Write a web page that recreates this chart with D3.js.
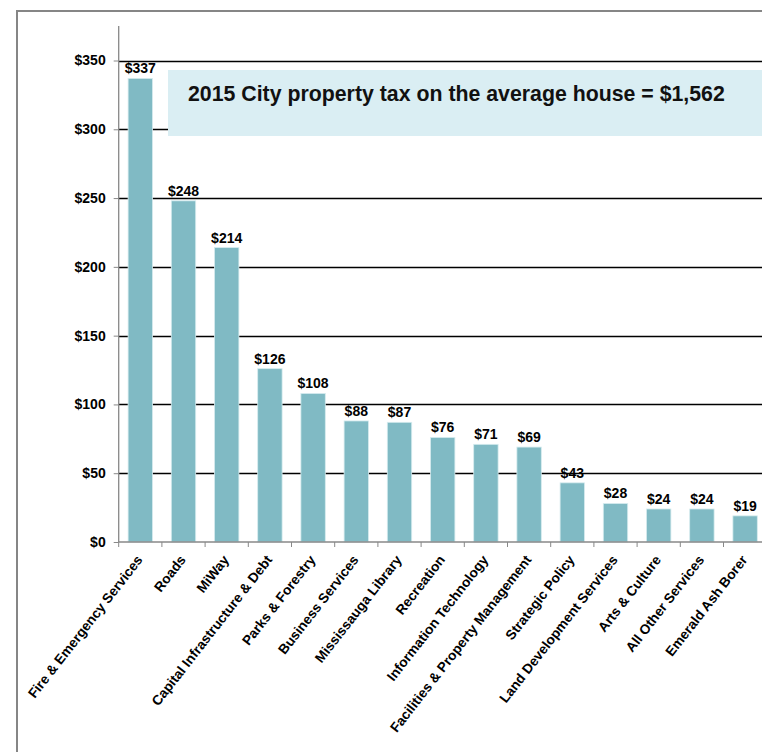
<!DOCTYPE html>
<html>
<head>
<meta charset="utf-8">
<script src="https://cdn.jsdelivr.net/npm/d3@7"></script>
<style>
  html, body { margin: 0; padding: 0; background: #fff; }
  svg { display: block; font-family: "Liberation Sans", Arial, sans-serif; }
</style>
</head>
<body>
<svg id="chart" width="762" height="752"></svg>
<script>
// Cost per service on the average house, 2015
const categories = [
  "Fire & Emergency Services", "Roads", "MiWay", "Capital Infrastructure & Debt",
  "Parks & Forestry", "Business Services", "Mississauga Library", "Recreation",
  "Information Technology", "Facilities & Property Management", "Strategic Policy",
  "Land Development Services", "Arts & Culture", "All Other Services", "Emerald Ash Borer"
];
const values = [337, 248, 214, 126, 108, 88, 87, 76, 71, 69, 43, 28, 24, 24, 19];
const yTicks = [0, 50, 100, 150, 200, 250, 300, 350];
const headline = "2015 City property tax on the average house = $1,562";

const svg = d3.select("#chart");

// frame around the chart
svg.append("rect")
  .attr("x", 17).attr("y", 11)
  .attr("width", 800).attr("height", 800)
  .attr("fill", "#fff")
  .attr("stroke", "#868686").attr("stroke-width", 2);

const x0 = 118.7, x1 = 766.7, y0 = 542, y1 = 60.5;

const x = d3.scaleBand()
  .domain(categories)
  .range([x0, x1])
  .paddingInner(0.435)
  .paddingOuter(0.2175);

const y = d3.scaleLinear().domain([0, 350]).range([y0, y1]);

const fmt = v => "$" + d3.format(",")(v);

// horizontal gridlines
svg.append("g")
  .selectAll("line")
  .data(yTicks.filter(t => t > 0))
  .join("line")
  .attr("x1", x0).attr("x2", 762)
  .attr("y1", d => Math.round(y(d)) + 0.5).attr("y2", d => Math.round(y(d)) + 0.5)
  .attr("stroke", "#000").attr("stroke-width", 1.3);

// y axis
const yAxis = d3.axisLeft(y)
  .tickValues(yTicks)
  .tickFormat(fmt)
  .tickSize(5)
  .tickPadding(8);
const gy = svg.append("g").attr("transform", `translate(${x0},0)`).call(yAxis);
gy.select(".domain").remove();
gy.selectAll(".tick line").attr("stroke", "#888");
gy.selectAll(".tick text")
  .attr("font-size", 14).attr("font-weight", "bold").attr("fill", "#000")
  .attr("font-family", "Liberation Sans, Arial, sans-serif");
svg.append("line")
  .attr("x1", x0).attr("x2", x0)
  .attr("y1", 26).attr("y2", y0)
  .attr("stroke", "#888").attr("stroke-width", 1.3);

// headline box
svg.append("rect")
  .attr("x", 168).attr("y", 70)
  .attr("width", 620).attr("height", 66)
  .attr("fill", "#DAEEF3");
svg.append("text")
  .attr("x", 188).attr("y", 101)
  .attr("font-size", 21.3).attr("font-weight", "bold").attr("fill", "#111")
  .text(headline);

// bars
svg.append("g")
  .selectAll("rect")
  .data(values)
  .join("rect")
  .attr("x", (d, i) => x(categories[i]))
  .attr("width", x.bandwidth())
  .attr("y", d => y(d))
  .attr("height", d => y0 - y(d))
  .attr("fill", "#80BAC4")
  .attr("stroke", "#D6ECEF").attr("stroke-width", 0.8);

// value labels
svg.append("g")
  .selectAll("text")
  .data(values)
  .join("text")
  .attr("x", (d, i) => x(categories[i]) + x.bandwidth() / 2)
  .attr("y", d => y(d) - 5)
  .attr("text-anchor", "middle")
  .attr("font-size", 14).attr("font-weight", "bold").attr("fill", "#000")
  .text(fmt);

// x axis line and boundary ticks
svg.append("line")
  .attr("x1", x0).attr("x2", 762)
  .attr("y1", y0).attr("y2", y0)
  .attr("stroke", "#888").attr("stroke-width", 1.3);
const bounds = categories.map(c => x(c) - x.step() * x.paddingInner() / 2);
svg.append("g")
  .selectAll("line")
  .data(bounds)
  .join("line")
  .attr("x1", d => d).attr("x2", d => d)
  .attr("y1", y0).attr("y2", y0 + 5)
  .attr("stroke", "#888");

// category labels
svg.append("g")
  .selectAll("text")
  .data(categories)
  .join("text")
  .attr("transform", d => `translate(${x(d) + x.bandwidth() / 2 + 3},${y0 + 18}) rotate(-52)`)
  .attr("text-anchor", "end")
  .attr("font-size", 13.7).attr("font-weight", "bold").attr("fill", "#000")
  .text(d => d);
</script>
</body>
</html>
